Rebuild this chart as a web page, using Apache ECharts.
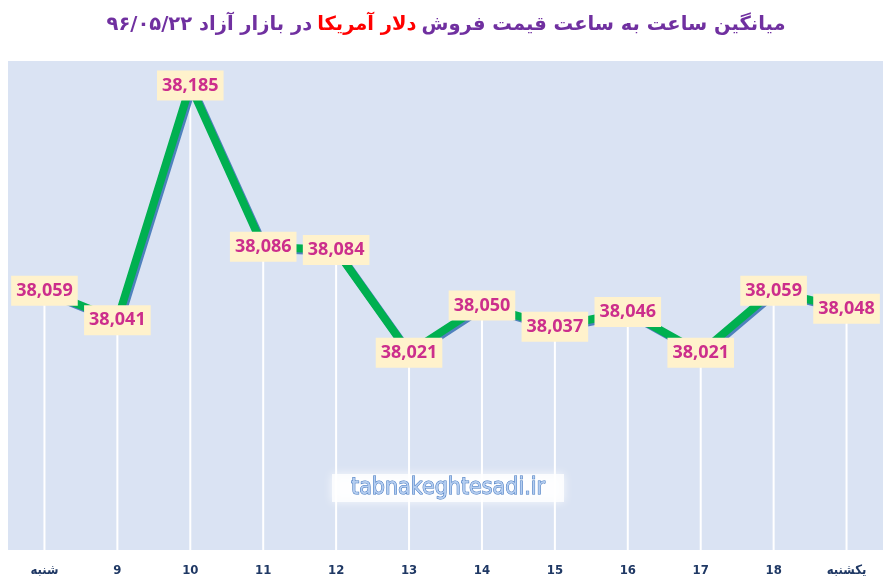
<!DOCTYPE html>
<html>
<head>
<meta charset="utf-8">
<script src="https://cdn.jsdelivr.net/npm/echarts@6/dist/echarts.min.js"></script>
<style>
  html, body { margin: 0; padding: 0; background: #fff; }
  #chart { width: 892px; height: 588px; }
</style>
</head>
<body>
<div id="chart"></div>
<script>
// hourly average sell price of US dollar, free market, 96/05/22
var hours = ['شنبه', '9', '10', '11', '12', '13', '14', '15', '16', '17', '18', 'یکشنبه'];
var prices = [38059, 38041, 38185, 38086, 38084, 38021, 38050, 38037, 38046, 38021, 38059, 38048];
var yMin = 37900, yMax = 38200;

var chart = echarts.init(document.getElementById('chart'));

var option = {
    backgroundColor: '#ffffff',
    animation: false,
    title: {
        left: 'center',
        top: 10,
        text: '{p|در بازار آزاد ۹۶/۰۵/۲۲} {r|دلار آمریکا} {p|میانگین ساعت به ساعت قیمت فروش}',
        textStyle: {
            rich: {
                p: { color: '#7030a0', fontSize: 19.5, fontWeight: 'bold', fontFamily: 'DejaVu Sans' },
                r: { color: '#ff0000', fontSize: 19.5, fontWeight: 'bold', fontFamily: 'DejaVu Sans' }
            }
        }
    },
    grid: {
        left: 8,
        right: 9,
        top: 61,
        bottom: 38,
        show: true,
        backgroundColor: '#dae3f3',
        borderWidth: 0
    },
    xAxis: {
        type: 'category',
        data: hours,
        boundaryGap: true,
        axisLine: { show: false },
        axisTick: { show: false },
        splitLine: { show: false },
        axisLabel: {
            margin: 14,
            color: '#1f3864',
            fontSize: 13,
            fontWeight: 'bold',
            fontFamily: 'DejaVu Sans Condensed'
        }
    },
    yAxis: {
        type: 'value',
        min: yMin,
        max: yMax,
        show: false,
        splitLine: { show: false }
    },
    graphic: [{
        type: 'rect',
        shape: { x: 332, y: 474, width: 232, height: 28 },
        style: { fill: 'rgba(255,255,255,0.8)', shadowBlur: 10, shadowColor: 'rgba(255,255,255,1)' },
        z: 5
    }, {
        type: 'text',
        x: 448,
        y: 488,
        style: {
            text: 'tabnakeghtesadi.ir',
            align: 'center',
            verticalAlign: 'middle',
            fontSize: 23,
            fontFamily: 'DejaVu Sans Condensed',
            fill: '#b4cdf0',
            stroke: '#3f74bd',
            lineWidth: 1
        },
        z: 6
    }],
    series: [{
        type: 'bar',
        data: prices,
        barWidth: 2,
        itemStyle: { color: '#ffffff' },
        silent: true
    }, {
        type: 'line',
        data: prices,
        symbol: 'circle',
        symbolSize: 1,
        showSymbol: true,
        itemStyle: { color: 'rgba(0,0,0,0)' },
        z: 3,
        lineStyle: {
            color: '#00b050',
            width: 8,
            shadowColor: '#4f81bd',
            shadowBlur: 0,
            shadowOffsetX: 2,
            shadowOffsetY: 2
        },
        label: {
            show: true,
            position: 'inside',
            formatter: function (p) {
                return p.value.toLocaleString('en-US');
            },
            color: '#cc2e8c',
            fontSize: 18,
            fontWeight: 'bold',
            fontFamily: 'Open Sans',
            backgroundColor: '#fff2cc',
            padding: [5, 5, 4, 5],
            lineHeight: 21
        }
    }]
};

chart.setOption(option);
</script>
</body>
</html>
